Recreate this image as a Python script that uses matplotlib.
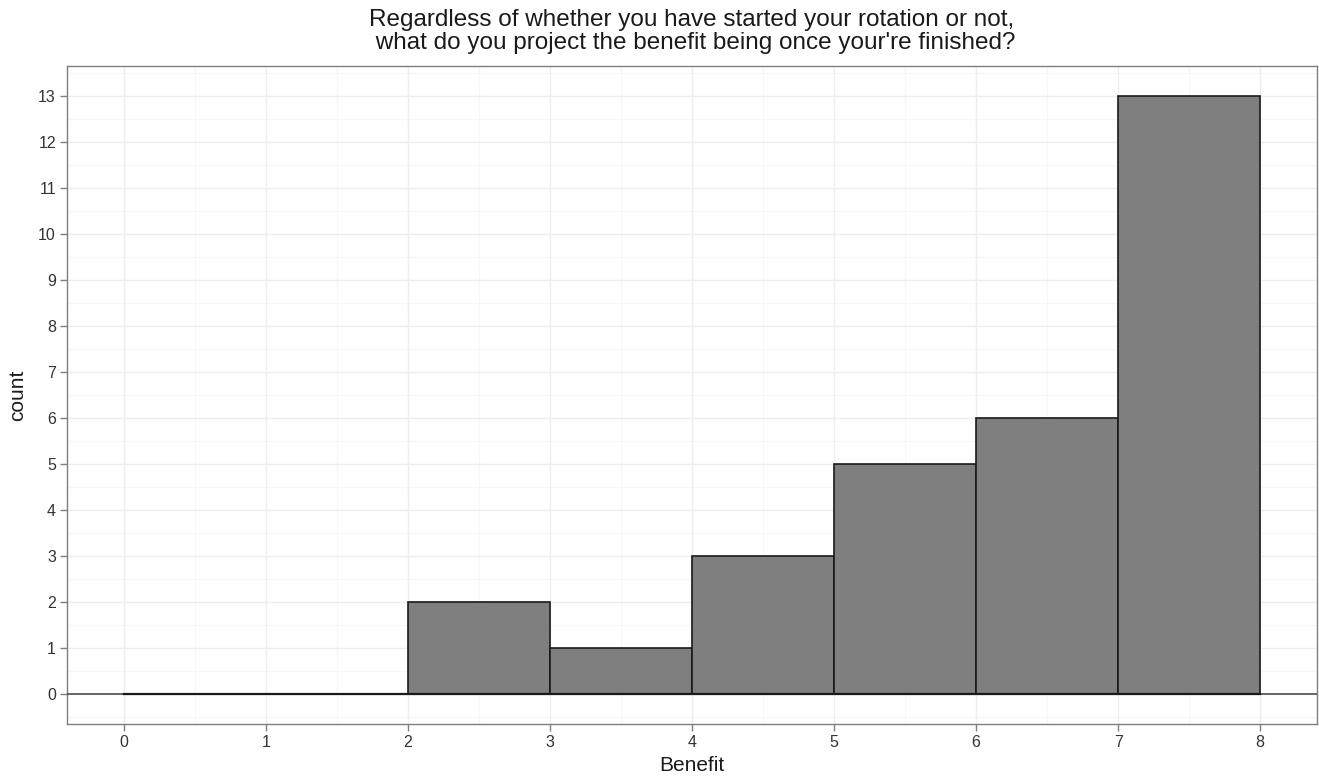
import matplotlib
matplotlib.use("Agg")
import matplotlib.pyplot as plt
import numpy as np

bin_edges = [0, 1, 2, 3, 4, 5, 6, 7, 8]
counts = [0, 0, 2, 1, 3, 5, 6, 13]
x_ticks = [0, 1, 2, 3, 4, 5, 6, 7, 8]
y_ticks = list(range(0, 14))
title = "Regardless of whether you have started your rotation or not,\n what do you project the benefit being once your're finished?"
xlabel = "Benefit"
ylabel = "count"

plt.rcParams['font.family'] = ['Liberation Sans', 'DejaVu Sans']

fig = plt.figure(figsize=(13.19, 7.81), dpi=100)
ax = fig.add_axes([0.0508, 0.0730, 0.9477, 0.8425])

# grid
for v in np.arange(-0.5, 9, 1.0):
    ax.axvline(v, color='#F7F7F7', lw=0.8, zorder=0)
for v in np.arange(-0.5, 14, 1.0):
    ax.axhline(v, color='#F7F7F7', lw=0.8, zorder=0)
for v in x_ticks:
    ax.axvline(v, color='#EEEEEE', lw=1.0, zorder=0)
for v in y_ticks:
    ax.axhline(v, color='#EEEEEE', lw=1.0, zorder=0)

lefts = bin_edges[:-1]
widths = np.diff(bin_edges)
ax.bar(lefts, counts, width=widths, align='edge', color='#7F7F7F',
       edgecolor='#1A1A1A', linewidth=1.2, zorder=2)
ax.axhline(0, color='#4D4D4D', lw=1.2, zorder=3)
ax.plot([bin_edges[0], bin_edges[-1]], [0, 0], color='#1A1A1A', lw=1.6, zorder=3)

ax.set_xlim(-0.4, 8.4)
ax.set_ylim(-0.65, 13.65)
ax.set_xticks(x_ticks)
ax.set_yticks(y_ticks)
ax.tick_params(axis='both', direction='out', length=5, width=1, color='#7F7F7F',
               labelsize=11.5, labelcolor='#333333', pad=3)
for s in ax.spines.values():
    s.set_color('#7F7F7F')
    s.set_linewidth(1.0)

ax.set_xlabel(xlabel, fontsize=15, color='#1A1A1A', labelpad=4)
ax.set_ylabel(ylabel, fontsize=15, color='#1A1A1A', labelpad=8)
ax.set_title(title, fontsize=17.5, color='#1A1A1A', pad=12, linespacing=1.05)

fig.savefig('out.png', dpi=100)
